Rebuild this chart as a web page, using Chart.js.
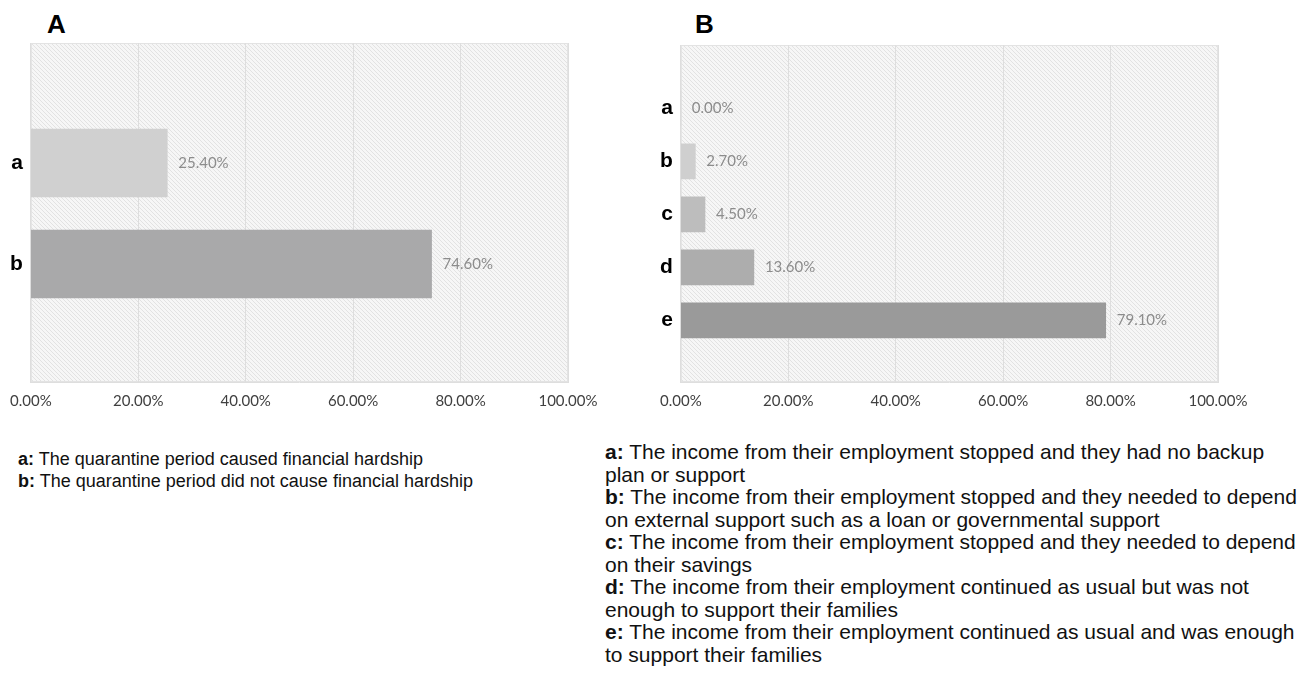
<!DOCTYPE html>
<html>
<head>
<meta charset="utf-8">
<script src="https://cdn.jsdelivr.net/npm/chart.js@4.4.1/dist/chart.umd.min.js"></script>
<style>
  body { margin: 0; background: #fff; width: 1316px; height: 694px; position: relative; overflow: hidden; }
  .box { position: absolute; width: 620px; height: 420px; }
  .title { position: absolute; font: bold 26px Arial, "Liberation Sans", sans-serif; color: #000; }
  .legend { position: absolute; font-family: Arial, "Liberation Sans", sans-serif; color: #111; white-space: nowrap; }
  .legend b { font-weight: bold; }
</style>
</head>
<body>
<div class="title" style="left:47px;top:9px;">A</div>
<div class="title" style="left:695px;top:9px;">B</div>
<div class="box" style="left:0;top:0;"><canvas id="chartA"></canvas></div>
<div class="box" style="left:650px;top:0;"><canvas id="chartB"></canvas></div>

<div class="legend" style="left:18px;top:448px;font-size:18px;line-height:22px;">
  <b>a:</b> The quarantine period caused financial hardship<br>
  <b>b:</b> The quarantine period did not cause financial hardship
</div>
<div class="legend" style="left:605px;top:441px;font-size:21px;line-height:22.5px;">
  <b>a:</b> The income from their employment stopped and they had no backup<br>
  plan or support<br>
  <b>b:</b> The income from their employment stopped and they needed to depend<br>
  on external support such as a loan or governmental support<br>
  <b>c:</b> The income from their employment stopped and they needed to depend<br>
  on their savings<br>
  <b>d:</b> The income from their employment continued as usual but was not<br>
  enough to support their families<br>
  <b>e:</b> The income from their employment continued as usual and was enough<br>
  to support their families
</div>

<script>
// chart A - financial hardship
const labelsA = ['a', 'b'];
const valuesA = [25.4, 74.6];
const colorsA = ['#d0d0d0', '#a9a9aa'];

// chart B - income situation
const labelsB = ['a', 'b', 'c', 'd', 'e'];
const valuesB = [0, 2.7, 4.5, 13.6, 79.1];
const colorsB = ['#d0d0d0', '#cfcfcf', '#bdbdbd', '#adadad', '#9a9a9a'];

const xTicks = [0, 20, 40, 60, 80, 100];

// hatched background like the excel plot area
const makeHatch = (ctx) => {
    const c = document.createElement('canvas');
    c.width = 4; c.height = 4;
    const g = c.getContext('2d');
    g.fillStyle = '#f6f6f6';
    g.fillRect(0, 0, 4, 4);
    g.strokeStyle = '#e2e2e2';
    g.lineWidth = 1;
    g.beginPath();
    g.moveTo(-1, -1); g.lineTo(5, 5);
    g.moveTo(-1, 3); g.lineTo(1, 5);
    g.moveTo(3, -1); g.lineTo(5, 1);
    g.stroke();
    return ctx.createPattern(c, 'repeat');
};

const plotBg = {
    id: 'plotBg',
    beforeDraw(chart) {
        const { ctx, chartArea: a } = chart;
        ctx.save();
        ctx.fillStyle = makeHatch(ctx);
        ctx.fillRect(a.left, a.top, a.right - a.left, a.bottom - a.top);
        ctx.strokeStyle = '#e3e3e3';
        ctx.lineWidth = 1;
        ctx.strokeRect(a.left + 0.5, a.top + 0.5, a.right - a.left - 1, a.bottom - a.top - 1);
        ctx.restore();
    }
};

const valueLabels = {
    id: 'valueLabels',
    afterDatasetsDraw(chart) {
        const { ctx } = chart;
        const ds = chart.data.datasets[0];
        ctx.save();
        ctx.font = '15px Lato, "Open Sans", sans-serif';
        ctx.fillStyle = '#8c8c8c';
        ctx.textBaseline = 'middle';
        chart.getDatasetMeta(0).data.forEach((bar, i) => {
            ctx.fillText(ds.data[i].x.toFixed(2) + '%', bar.x + 11, bar.y);
        });
        ctx.restore();
    }
};

const makeChart = (id, labels, values, colors, thickness, yMin, yMax, top) => {
    return new Chart(document.getElementById(id), {
        type: 'bar',
        data: {
            datasets: [{
                data: values.map((v, i) => ({ x: v, y: i + 1 })),
                backgroundColor: colors,
                borderWidth: 0,
                barThickness: thickness
            }]
        },
        options: {
            indexAxis: 'y',
            responsive: false,
            animation: false,
            layout: { padding: { top: top, right: 52, left: 0, bottom: 0 } },
            plugins: { legend: { display: false }, tooltip: { enabled: false } },
            scales: {
                x: {
                    type: 'linear',
                    min: 0,
                    max: 100,
                    afterBuildTicks: (s) => { s.ticks = xTicks.map(v => ({ value: v })); },
                    afterFit: (s) => { s.height = 38; },
                    grid: { color: '#dedede', drawTicks: false },
                    border: { color: '#dedede' },
                    ticks: {
                        padding: 10,
                        color: '#404040',
                        font: { family: 'Lato, "Open Sans", sans-serif', size: 15 },
                        callback: (v) => v.toFixed(2) + '%'
                    }
                },
                y: {
                    type: 'linear',
                    offset: false,
                    reverse: true,
                    min: yMin,
                    max: yMax,
                    afterBuildTicks: (s) => { s.ticks = labels.map((l, i) => ({ value: i + 1 })); },
                    afterFit: (s) => { s.width = 30; },
                    grid: { display: false, drawTicks: false, offset: false },
                    border: { display: false },
                    ticks: {
                        padding: 8,
                        color: '#000',
                        font: { family: 'Arial, "Liberation Sans", sans-serif', size: 21, weight: 'bold' },
                        callback: (v) => labels[v - 1]
                    }
                }
            }
        },
        plugins: [plotBg, valueLabels]
    });
};

document.getElementById('chartA').width = 620;
document.getElementById('chartA').height = 420;
document.getElementById('chartB').width = 620;
document.getElementById('chartB').height = 420;

makeChart('chartA', labelsA, valuesA, colorsA, 68, -0.188, 3.168, 43);
makeChart('chartB', labelsB, valuesB, colorsB, 35, -0.194, 6.162, 45);
</script>
</body>
</html>
